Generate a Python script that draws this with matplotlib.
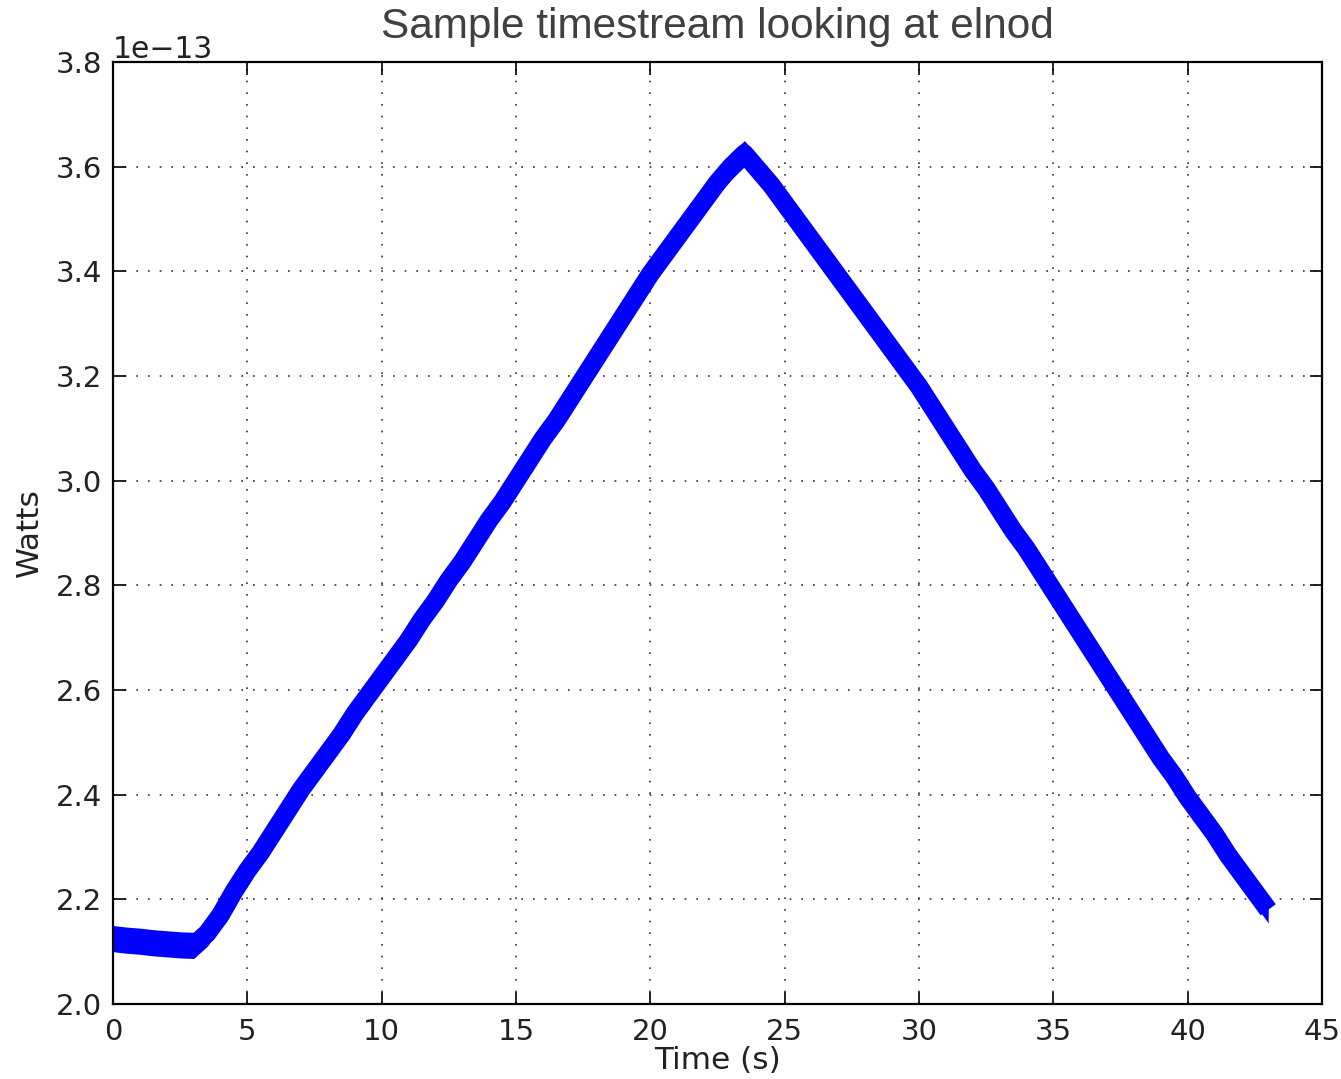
import matplotlib
matplotlib.use("Agg")
import matplotlib.pyplot as plt
import numpy as np

# sample times (s) and band centre (units of 1e-13 W), every 0.5 s
time_s = np.linspace(0.0, 43.0, 87)
watts_e13 = [
    2.125, 2.122, 2.120, 2.117, 2.115, 2.113, 2.112, 2.135, 2.170, 2.215,
    2.255, 2.290, 2.330, 2.370, 2.410, 2.445, 2.480, 2.515, 2.555, 2.590,
    2.625, 2.660, 2.695, 2.735, 2.770, 2.810, 2.845, 2.885, 2.925, 2.960,
    3.000, 3.040, 3.080, 3.115, 3.155, 3.195, 3.235, 3.275, 3.315, 3.355,
    3.395, 3.430, 3.465, 3.500, 3.535, 3.570, 3.600, 3.625, 3.595, 3.565,
    3.530, 3.495, 3.460, 3.425, 3.390, 3.355, 3.320, 3.285, 3.250, 3.215,
    3.180, 3.140, 3.100, 3.060, 3.020, 2.985, 2.945, 2.905, 2.870, 2.830,
    2.790, 2.750, 2.710, 2.670, 2.630, 2.590, 2.550, 2.510, 2.470, 2.435,
    2.395, 2.360, 2.325, 2.285, 2.250, 2.215, 2.180,
]
# half peak-to-peak noise of the timestream (same units)
noise_half = 0.025

x_ticks = [0, 5, 10, 15, 20, 25, 30, 35, 40, 45]
y_ticks_e13 = [2.0, 2.2, 2.4, 2.6, 2.8, 3.0, 3.2, 3.4, 3.6, 3.8]

watts = np.array(watts_e13) * 1e-13

fig = plt.figure(figsize=(13.41, 10.79), dpi=100)
ax = fig.add_axes([0.0843, 0.0695, 0.9015, 0.873])

# noise band + thick trace so sloped parts look as wide as in the original
ax.fill_between(time_s, watts - noise_half * 1e-13, watts + noise_half * 1e-13,
                color="#0000ff", linewidth=0)
ax.plot(time_s, watts, color="#0000ff", lw=13.5, solid_capstyle="butt",
        solid_joinstyle="round")

ax.set_xlim(0, 45)
ax.set_ylim(2.0e-13, 3.8e-13)
ax.set_xticks(x_ticks)
ax.set_yticks(np.array(y_ticks_e13) * 1e-13)
ax.ticklabel_format(axis="y", style="sci", scilimits=(0, 0), useMathText=False)
ax.yaxis.get_offset_text().set_fontsize(21.5)
ax.yaxis.get_offset_text().set_color("#222222")

ax.grid(True, color="#333333", linestyle=(0, (1, 6)), linewidth=1.2)
ax.tick_params(direction="in", length=9, width=1.2, top=True, right=True,
               labelsize=21, pad=8, colors="black", labelcolor="#222222")
ax.tick_params(axis="x", pad=10)
for sp in ax.spines.values():
    sp.set_linewidth(1.6)

ax.set_xlabel("Time (s)", fontsize=22.5, labelpad=0, color="#222222")
ax.set_ylabel("Watts", fontsize=22.5, labelpad=8, color="#222222")
ax.set_title("Sample timestream looking at elnod", fontsize=30.5, color="#404040",
             family=["Liberation Sans Narrow", "Liberation Sans", "DejaVu Sans"], pad=17)

fig.savefig("out.png", dpi=100)
